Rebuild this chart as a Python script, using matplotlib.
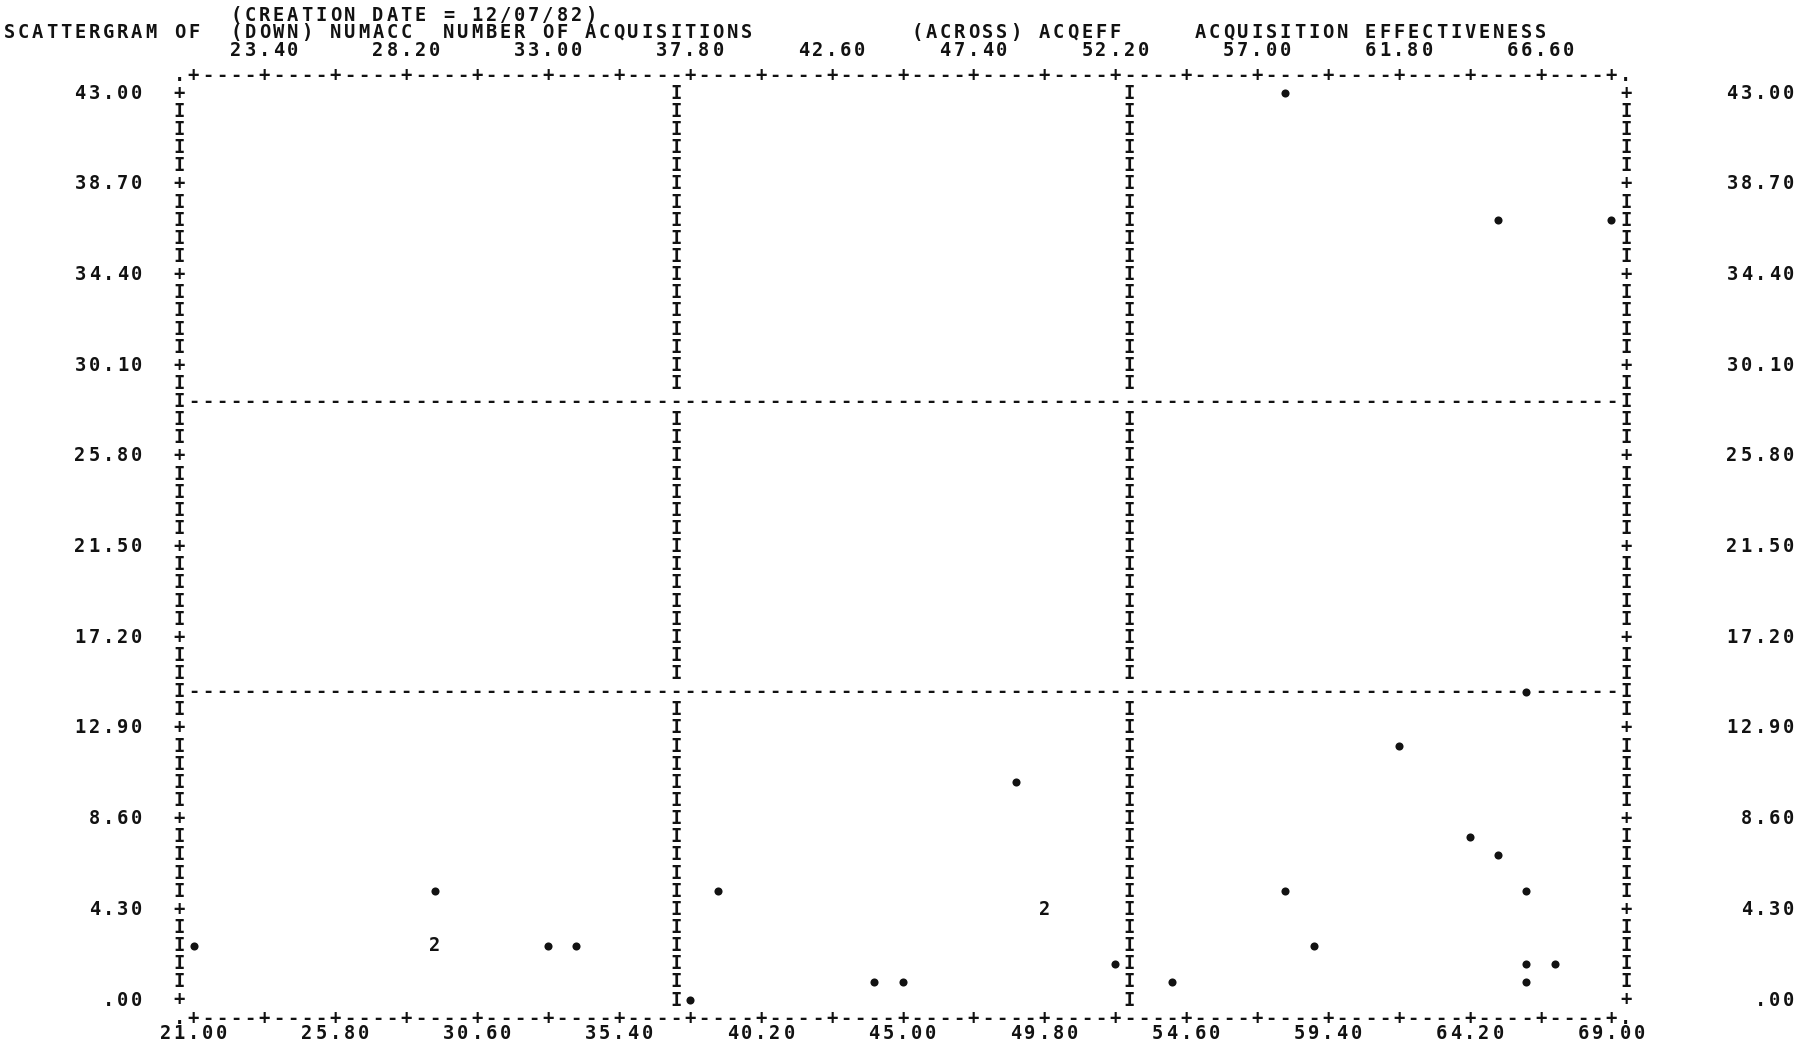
import matplotlib
matplotlib.use("Agg")
import matplotlib.pyplot as plt

# ---------------- data ----------------
# ACQEFF (across) and NUMACC (down) for single cases
acqeff = [21.00, 29.16, 33.00, 33.96,
          37.80, 38.76, 44.04, 45.00, 48.84, 52.20,
          54.12, 57.96, 58.92, 61.80, 64.20, 65.16, 66.12, 66.12, 66.12, 66.12, 67.08,
          57.96, 65.16, 69.00]
numacc = [3, 5, 3, 3,
          0, 5, 1, 1, 10, 2,
          1, 5, 3, 12, 8, 7, 15, 5, 2, 1, 2,
          43, 37, 37]
# cells holding more than one case
multi_acqeff = [29.16, 49.80]
multi_numacc = [3, 4]
multi_count = [2, 2]

x_labels_bottom = ["21.00", "25.80", "30.60", "35.40", "40.20", "45.00",
                   "49.80", "54.60", "59.40", "64.20", "69.00"]
x_labels_top = ["23.40", "28.20", "33.00", "37.80", "42.60",
                "47.40", "52.20", "57.00", "61.80", "66.60"]
y_labels = [".00", "4.30", "8.60", "12.90", "17.20", "21.50",
            "25.80", "30.10", "34.40", "38.70", "43.00"]
title_line1 = "(CREATION DATE = 12/07/82)"
header_texts = ["SCATTERGRAM OF", "(DOWN) NUMACC", "NUMBER OF ACQUISITIONS",
                "(ACROSS) ACQEFF", "ACQUISITION EFFECTIVENESS"]

# ---------------- printer grid ----------------
XMIN, XMAX = 21.0, 69.0
YMIN, YMAX = 0.0, 43.0
NCOL, NROW = 100, 50
DX = (XMAX - XMIN) / NCOL
DY = (YMAX - YMIN) / NROW

W, H = 1819, 1050
fig = plt.figure(figsize=(W / 100, H / 100), dpi=100)
fig.patch.set_facecolor("white")
left_px, right_px = 193.5, 1611.5
top_px, bot_px = 93.3, 1000.0
ax = fig.add_axes([left_px / W, 1 - bot_px / H, (right_px - left_px) / W, (bot_px - top_px) / H])
ax.set_xlim(XMIN, XMAX)
ax.set_ylim(YMIN, YMAX)
ax.axis("off")

INK = "#121212"
FONT = dict(family="DejaVu Sans Mono", fontweight="bold", fontsize=13.5, color=INK)


def put(col, row, s, **kw):
    for i, ch in enumerate(s):
        if ch != " ":
            ax.text(XMIN + DX * (col + i), YMIN + DY * row, ch, ha="center",
                    va="center", clip_on=False, **{**FONT, **kw})


# occupied cells by data
occupied = set()
for x, y in zip(acqeff + multi_acqeff, numacc + multi_numacc):
    occupied.add((round((x - XMIN) / DX), round((y - YMIN) / DY)))

# frame columns and dividers
for r in range(0, NROW + 1):
    ch = "+" if r % 5 == 0 else "I"
    put(-1, r, ch)
    put(NCOL + 1, r, ch)
H_DIV = [17, 33]
V_DIV = [34, 66]
for r in range(0, NROW + 1):
    if r in H_DIV:
        continue
    for c in V_DIV:
        if (c, r) not in occupied:
            put(c, r, "I")
for r in H_DIV:
    for c in range(0, NCOL + 1):
        if (c, r) not in occupied:
            put(c, r, "-")

# top and bottom borders
for r in (-1, NROW + 1):
    put(-1, r, ".")
    put(NCOL + 1, r, ".")
    for c in range(0, NCOL + 1):
        put(c, r, "+" if c % 5 == 0 else "-")

# axis labels
for i, lab in enumerate(y_labels):
    r = i * 5
    put(-3 - len(lab), r, lab)
    put(113.5 - len(lab), r, lab)
for i, lab in enumerate(x_labels_bottom):
    put(i * 10 - 2, -1.85, lab)
for i, lab in enumerate(x_labels_top):
    put(5 + i * 10 - 2, NROW + 2.35, lab)

# header
put(3, NROW + 4.3, title_line1)
for text, col in zip(header_texts, [-13, 3, 18, 51, 71]):
    put(col, NROW + 3.35, text)

# data points (snapped to printer cells)
px = [XMIN + DX * round((x - XMIN) / DX) for x in acqeff]
py = [YMIN + DY * round((y - YMIN) / DY) for y in numacc]
ax.scatter(px, py, s=34, marker="o", color=INK, zorder=5, clip_on=False, linewidths=0)
for x, y, n in zip(multi_acqeff, multi_numacc, multi_count):
    ax.text(XMIN + DX * round((x - XMIN) / DX), YMIN + DY * round((y - YMIN) / DY), str(n),
            ha="center", va="center", clip_on=False, **FONT)

fig.savefig("out.png", dpi=100, facecolor="white")
